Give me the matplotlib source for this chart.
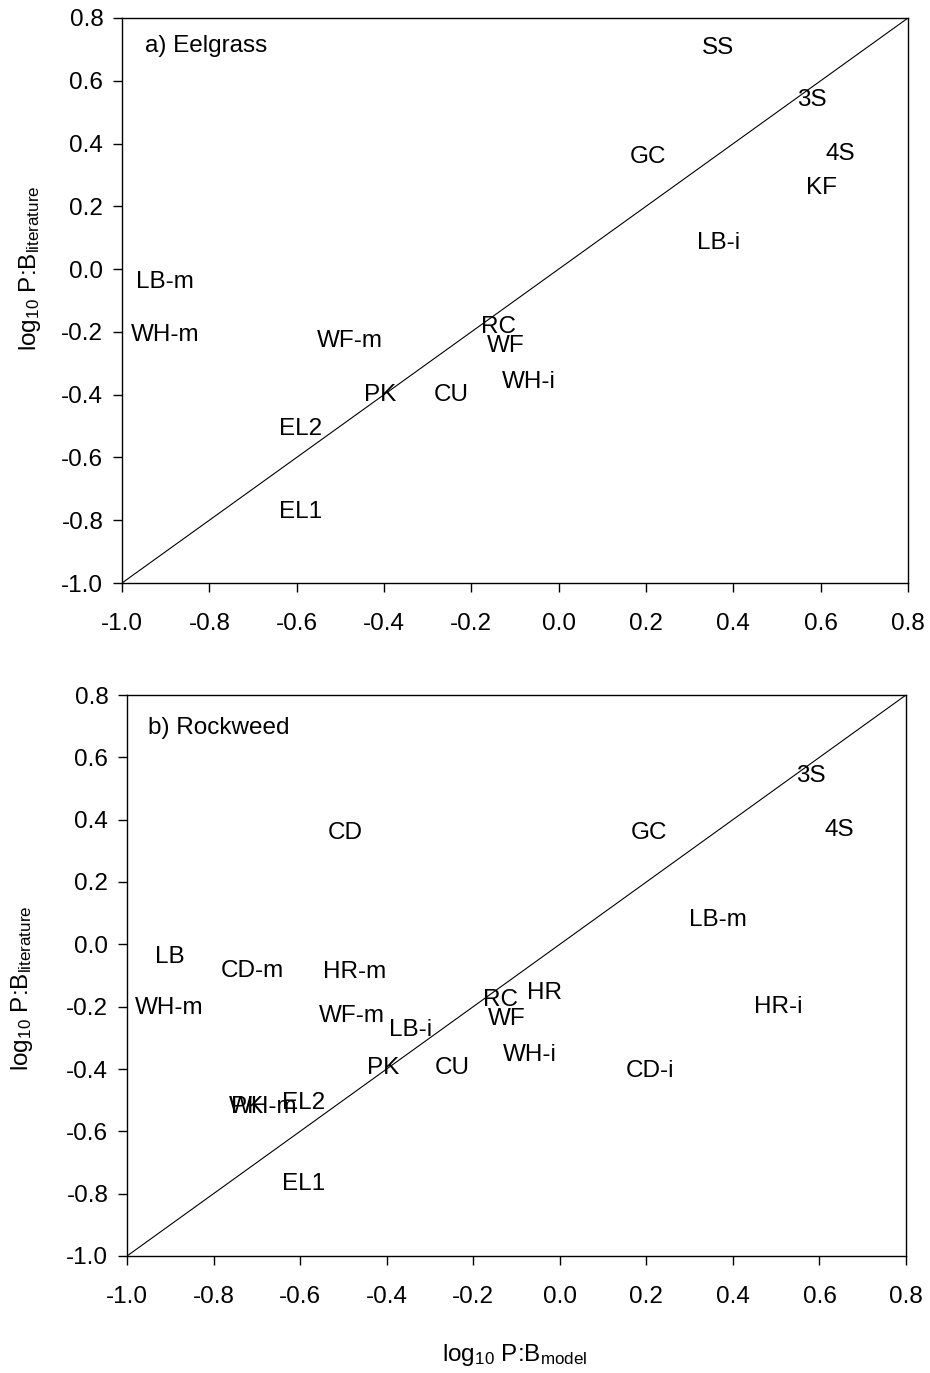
import matplotlib
matplotlib.use("Agg")
import matplotlib.pyplot as plt

plt.rcParams['font.family'] = ['Liberation Sans', 'DejaVu Sans']
plt.rcParams['mathtext.fontset'] = 'custom'
plt.rcParams['mathtext.rm'] = 'Liberation Sans'
plt.rcParams['mathtext.it'] = 'Liberation Sans'

# Panel a) Eelgrass
labels_a = ["SS", "3S", "4S", "KF", "GC", "LB-i", "LB-m", "WH-m", "WF-m", "RC",
            "WF", "WH-i", "PK", "CU", "EL2", "EL1"]
x_a = [0.365, 0.580, 0.644, 0.601, 0.204, 0.367, -0.902, -0.902, -0.478, -0.137,
       -0.121, -0.068, -0.409, -0.247, -0.592, -0.592]
y_a = [0.704, 0.539, 0.367, 0.258, 0.357, 0.083, -0.041, -0.210, -0.229, -0.184,
       -0.245, -0.360, -0.401, -0.401, -0.509, -0.774]

# Panel b) Rockweed
labels_b = ["3S", "4S", "CD", "GC", "LB-m", "LB", "CD-m", "HR-m", "HR", "RC",
            "WH-m", "HR-i", "WF-m", "WF", "LB-i", "WH-i", "PK", "CU", "CD-i",
            "PK", "WH-m", "EL2", "EL1"]
x_b = [0.580, 0.645, -0.496, 0.206, 0.366, -0.901, -0.711, -0.475, -0.036, -0.138,
       -0.903, 0.505, -0.480, -0.122, -0.344, -0.069, -0.409, -0.249, 0.208,
       -0.723, -0.685, -0.591, -0.593]
y_b = [0.540, 0.367, 0.357, 0.357, 0.078, -0.041, -0.085, -0.088, -0.156, -0.178,
       -0.204, -0.201, -0.230, -0.240, -0.275, -0.355, -0.397, -0.397, -0.406,
       -0.522, -0.522, -0.509, -0.769]

ticks = [-1.0, -0.8, -0.6, -0.4, -0.2, 0.0, 0.2, 0.4, 0.6, 0.8]
tick_labels = ["-1.0", "-0.8", "-0.6", "-0.4", "-0.2", "0.0", "0.2", "0.4", "0.6", "0.8"]

FS = 17.5
W, H = 930, 1373
fig = plt.figure(figsize=(9.3, 13.73), dpi=100)
ax_a = fig.add_axes([122/W, 1-583/H, (908-122)/W, (583-18)/H])
ax_b = fig.add_axes([127/W, 1-1256/H, (906-127)/W, (1256-695)/H])

ylab = r'log$_{10}$ P:B$_{\rm literature}$'

panels = [(ax_a, labels_a, x_a, y_a, "a) Eelgrass", (0.029, 0.950)),
          (ax_b, labels_b, x_b, y_b, "b) Rockweed", (0.027, 0.941))]
for ax, labs, xs, ys, title, tpos in panels:
    ax.set_xlim(-1.0, 0.8)
    ax.set_ylim(-1.0, 0.8)
    ax.plot([-1.0, 0.8], [-1.0, 0.8], color='black', lw=0.8)
    for l, x, y in zip(labs, xs, ys):
        ax.text(x, y, l, ha='center', va='center', fontsize=FS)
    ax.set_xticks(ticks)
    ax.set_xticklabels(tick_labels)
    ax.set_yticks(ticks)
    ax.set_yticklabels(tick_labels)
    ax.tick_params(direction='out', length=6.5, width=1, labelsize=FS,
                   top=False, right=False)
    ax.tick_params(axis='x', pad=15)
    ax.tick_params(axis='y', pad=7)
    for s in ax.spines.values():
        s.set_linewidth(1.0)
    ax.text(tpos[0], tpos[1], title, transform=ax.transAxes, ha='left',
            va='center', fontsize=FS)

fig.text(30/W, 1-268/H, ylab, rotation=90, ha='center', va='center', fontsize=FS)
fig.text(22/W, 1-988/H, ylab, rotation=90, ha='center', va='center', fontsize=FS)
fig.text(515/W, 1-1355/H, r'log$_{10}$ P:B$_{\rm model}$', ha='center',
         va='center', fontsize=FS)

fig.savefig("out.png", dpi=100)
